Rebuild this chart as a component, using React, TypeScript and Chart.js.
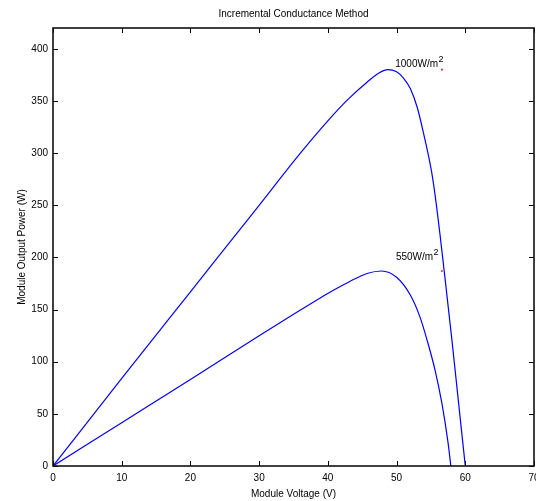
import { useEffect, useRef } from 'react';
import { Chart, registerables } from 'chart.js';

Chart.register(...registerables);

const FONT = '"Liberation Sans", Arial, Helvetica, sans-serif';

// Data
const voltage1000 = [0, 10, 20, 30, 36, 40, 43, 45.7, 47.5, 48.7, 50.0, 51.0, 52.0, 53.0, 54.1, 54.6, 55.1, 55.6, 56.3, 57.0, 58.0, 59.0, 60.0];
const power1000 = [0, 84, 167, 250, 300, 331, 352, 368, 377, 380, 378, 372, 362, 344, 314, 299, 282, 260, 223, 183, 124, 62, 0];

const voltage550 = [0, 10, 20, 30, 36, 40.8, 43.2, 45.7, 47.8, 50.0, 52.0, 53.4, 54.6, 55.6, 56.6, 57.5, 57.9];
const power550 = [0, 41.5, 83, 125, 149.5, 168.5, 177, 184.6, 187, 181, 164, 143, 117, 92, 60, 22, 0];

const mppVoltage = [56.6, 56.6];
const mppPower = [380, 187];

const labelTexts = ['1000W/m', '550W/m'];
const labelVoltage = [49.8, 49.9];
const labelPower = [382.5, 197.3];

const xTicks = [0, 10, 20, 30, 40, 50, 60, 70];
const yTicks = [0, 50, 100, 150, 200, 250, 300, 350, 400];

const titleText = 'Incremental Conductance Method';
const xTitle = 'Module Voltage (V)';
const yTitle = 'Module Output Power (W)';

const framePlugin = {
  id: 'matlabFrame',
  afterDraw(chart: any) {
    const ctx = chart.ctx;
    const { left, right, top, bottom } = chart.chartArea;
    const xs = chart.scales.x;
    const ys = chart.scales.y;
    ctx.save();
    // inward ticks
    ctx.strokeStyle = '#000';
    ctx.lineWidth = 1;
    const tl = 5;
    ctx.beginPath();
    xTicks.forEach((v) => {
      const px = Math.round(xs.getPixelForValue(v)) + 0.5;
      ctx.moveTo(px, bottom);
      ctx.lineTo(px, bottom - tl);
      ctx.moveTo(px, top);
      ctx.lineTo(px, top + tl);
    });
    yTicks.forEach((v) => {
      const py = Math.round(ys.getPixelForValue(v)) + 0.5;
      ctx.moveTo(left, py);
      ctx.lineTo(left + tl, py);
      ctx.moveTo(right, py);
      ctx.lineTo(right - tl, py);
    });
    ctx.stroke();
    // frame
    ctx.lineWidth = 1.6;
    ctx.strokeStyle = '#111';
    ctx.strokeRect(left, top, right - left, bottom - top);

    // texts
    ctx.fillStyle = '#000';
    ctx.font = `10px ${FONT}`;
    ctx.textAlign = 'center';
    ctx.textBaseline = 'middle';
    ctx.fillText(titleText, (left + right) / 2, 14.5);
    ctx.fillText(xTitle, (left + right) / 2, 494);
    ctx.save();
    ctx.translate(22, (top + bottom) / 2);
    ctx.rotate(-Math.PI / 2);
    ctx.fillText(yTitle, 0, 0);
    ctx.restore();

    // curve labels with superscript
    ctx.textAlign = 'left';
    ctx.textBaseline = 'alphabetic';
    labelTexts.forEach((t, i) => {
      const px = xs.getPixelForValue(labelVoltage[i]);
      const py = ys.getPixelForValue(labelPower[i]);
      ctx.font = `10px ${FONT}`;
      ctx.fillText(t, px, py);
      const w = ctx.measureText(t).width;
      ctx.font = `9px ${FONT}`;
      ctx.fillText('2', px + w + 0.5, py - 5);
    });
    ctx.restore();
  },
};

export default function App() {
  const ref = useRef<HTMLCanvasElement | null>(null);
  useEffect(() => {
    if (!ref.current) return;
    const chart = new Chart(ref.current, {
      type: 'scatter',
      data: {
        datasets: [
          {
            data: voltage1000.map((v, i) => ({ x: v, y: power1000[i] })),
            showLine: true,
            borderColor: '#0000ff',
            borderWidth: 1.2,
            pointRadius: 0,
            cubicInterpolationMode: 'monotone',
            fill: false,
          },
          {
            data: voltage550.map((v, i) => ({ x: v, y: power550[i] })),
            showLine: true,
            borderColor: '#0000ff',
            borderWidth: 1.2,
            pointRadius: 0,
            cubicInterpolationMode: 'monotone',
            fill: false,
          },
          {
            data: mppVoltage.map((v, i) => ({ x: v, y: mppPower[i] })),
            showLine: false,
            pointStyle: 'rect',
            pointRadius: 1.2,
            backgroundColor: '#ff0000',
            borderColor: '#ff0000',
            borderWidth: 0,
          },
        ],
      },
      options: {
        animation: false,
        responsive: false,
        events: [],
        layout: { padding: { left: 0, top: 28, right: 26, bottom: 0 } },
        plugins: { legend: { display: false }, title: { display: false }, tooltip: { enabled: false } },
        scales: {
          x: {
            type: 'linear',
            min: 0,
            max: 70,
            grid: { display: false, drawTicks: false },
            border: { display: false },
            ticks: {
              stepSize: 10,
              padding: 6,
              color: '#000',
              font: { family: FONT, size: 10 },
              maxRotation: 0,
            },
            afterFit: (s: any) => {
              s.height = 35;
            },
          },
          y: {
            type: 'linear',
            min: 0,
            max: 420,
            grid: { display: false, drawTicks: false },
            border: { display: false },
            ticks: {
              stepSize: 50,
              padding: 5,
              color: '#000',
              font: { family: FONT, size: 10 },
            },
            afterBuildTicks: (s: any) => {
              s.ticks = s.ticks.filter((t: any) => t.value % 50 === 0);
            },
            afterFit: (s: any) => {
              s.width = 53;
            },
          },
        },
      },
      plugins: [framePlugin],
    } as any);
    return () => chart.destroy();
  }, []);
  return (
    <div style={{ position: 'fixed', left: 0, top: 0, width: 536, height: 501, overflow: 'hidden', background: '#fff' }}>
      <canvas ref={ref} width={560} height={501} style={{ display: 'block' }} />
    </div>
  );
}
